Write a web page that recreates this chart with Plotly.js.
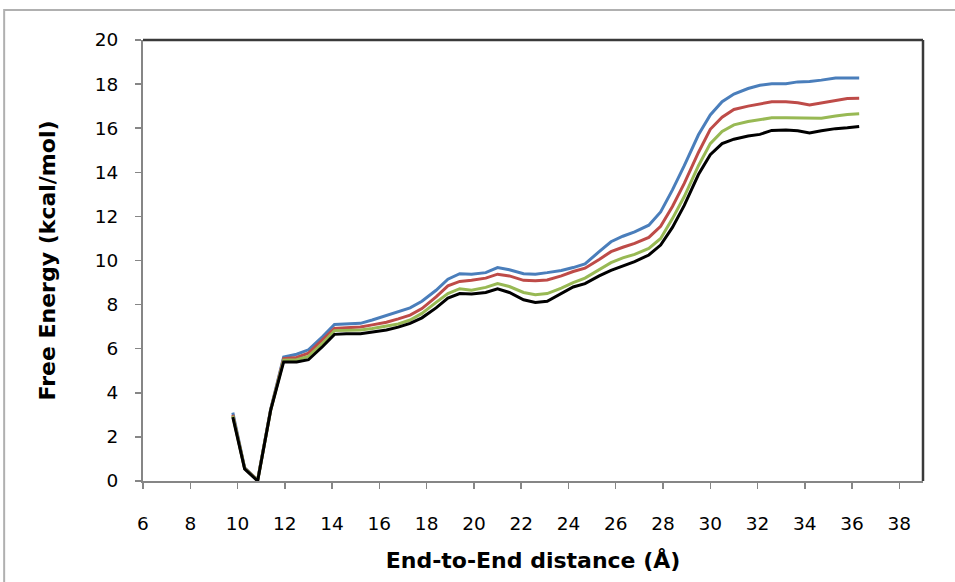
<!DOCTYPE html>
<html><head><meta charset="utf-8">
<script src="https://cdn.plot.ly/plotly-3.0.1.min.js"></script>
<style>html,body{margin:0;padding:0;background:#fff;}#chart{width:955px;height:582px;}</style>
</head><body><div id="chart"></div>
<script>
const distance = [9.8,10.3,10.85,11.4,11.95,12.5,13.0,13.6,14.1,14.6,15.2,15.7,16.3,16.8,17.3,17.8,18.4,18.9,19.4,19.9,20.5,21.0,21.5,22.1,22.6,23.1,23.7,24.2,24.7,25.3,25.8,26.3,26.8,27.4,27.9,28.4,28.9,29.5,30.0,30.5,31.0,31.6,32.1,32.6,33.2,33.7,34.2,34.7,35.3,35.8,36.3];
const blueSeries = [3.1,0.6,0.04,3.25,5.62,5.75,5.95,6.55,7.1,7.12,7.15,7.3,7.5,7.68,7.85,8.15,8.65,9.15,9.4,9.38,9.45,9.68,9.58,9.4,9.38,9.45,9.55,9.68,9.85,10.4,10.85,11.1,11.3,11.6,12.2,13.2,14.3,15.7,16.6,17.2,17.55,17.8,17.95,18.02,18.02,18.1,18.12,18.18,18.28,18.28,18.28];
const redSeries = [3.0,0.58,0.03,3.22,5.55,5.6,5.8,6.4,6.92,6.95,6.98,7.08,7.2,7.35,7.52,7.82,8.35,8.85,9.05,9.1,9.2,9.38,9.3,9.1,9.08,9.12,9.3,9.5,9.65,10.05,10.4,10.6,10.78,11.05,11.55,12.45,13.5,14.9,15.95,16.5,16.85,17.0,17.1,17.2,17.2,17.15,17.05,17.15,17.28,17.35,17.36];
const greenSeries = [2.95,0.57,0.02,3.2,5.48,5.5,5.65,6.25,6.82,6.84,6.85,6.92,7.02,7.12,7.3,7.6,8.1,8.5,8.72,8.65,8.78,8.95,8.82,8.55,8.45,8.5,8.75,9.0,9.2,9.6,9.9,10.12,10.28,10.55,11.0,11.9,12.9,14.3,15.3,15.85,16.15,16.3,16.4,16.47,16.47,16.47,16.45,16.45,16.55,16.62,16.65];
const blackSeries = [2.9,0.55,0.0,3.2,5.4,5.4,5.5,6.1,6.65,6.68,6.68,6.75,6.85,6.98,7.15,7.4,7.85,8.3,8.5,8.48,8.55,8.72,8.55,8.22,8.1,8.15,8.5,8.8,8.95,9.3,9.55,9.75,9.95,10.25,10.7,11.5,12.5,13.9,14.8,15.3,15.5,15.65,15.72,15.9,15.92,15.88,15.78,15.88,15.98,16.02,16.08];
const xTicks = [6,8,10,12,14,16,18,20,22,24,26,28,30,32,34,36,38];
const yTicks = [0,2,4,6,8,10,12,14,16,18,20];

const mk = (y, color) => ({x: distance, y: y, type: 'scatter', mode: 'lines',
  line: {color: color, width: 3}, hoverinfo: 'skip', showlegend: false});
const data = [mk(blueSeries,'#4a7ebb'), mk(redSeries,'#be4b48'), mk(greenSeries,'#98b954'), mk(blackSeries,'#000000')];

const tickFont = {size: 18.5, family: 'DejaVu Sans, sans-serif', color: '#000'};
const titleFont = {size: 22, family: 'DejaVu Sans, sans-serif', weight: 'bold', color: '#000'};
const layout = {
  width: 955, height: 582,
  margin: {l: 143, r: 32, t: 40, b: 101, pad: 0},
  paper_bgcolor: '#ffffff', plot_bgcolor: '#ffffff',
  font: {family: 'DejaVu Sans, sans-serif', color: '#000'},
  xaxis: {range: [6, 39], tickvals: xTicks, ticktext: xTicks.map(String),
    showgrid: false, zeroline: false, showline: true, linecolor: '#868686', linewidth: 2,
    ticks: 'outside', ticklen: 6, tickcolor: '#868686', tickwidth: 1.5,
    ticklabelstandoff: 19, tickfont: tickFont,
    title: {text: 'End-to-End distance (Å)', font: titleFont, standoff: 19}},
  yaxis: {range: [0, 20], tickvals: yTicks, ticktext: yTicks.map(String),
    showgrid: false, zeroline: false, showline: true, linecolor: '#868686', linewidth: 2,
    ticks: 'outside', ticklen: 6, tickcolor: '#868686', tickwidth: 1.5,
    ticklabelstandoff: 13, tickfont: tickFont,
    title: {text: 'Free Energy (kcal/mol)', font: titleFont, standoff: 33}},
  shapes: [
    {type: 'line', xref: 'paper', yref: 'paper', x0: 0, x1: 1, y0: 1, y1: 1, line: {color: '#3a3a3a', width: 2.5}},
    {type: 'line', xref: 'paper', yref: 'paper', x0: 1, x1: 1, y0: 0, y1: 1, line: {color: '#3a3a3a', width: 2.5}},
    {type: 'rect', xref: 'paper', yref: 'paper', x0: -0.178, x1: 1.2, y0: -0.3, y1: 1.068, line: {color: '#b0b0b0', width: 2}, layer: 'below'}
  ]
};
Plotly.newPlot('chart', data, layout, {displayModeBar: false, staticPlot: true});
</script></body></html>
